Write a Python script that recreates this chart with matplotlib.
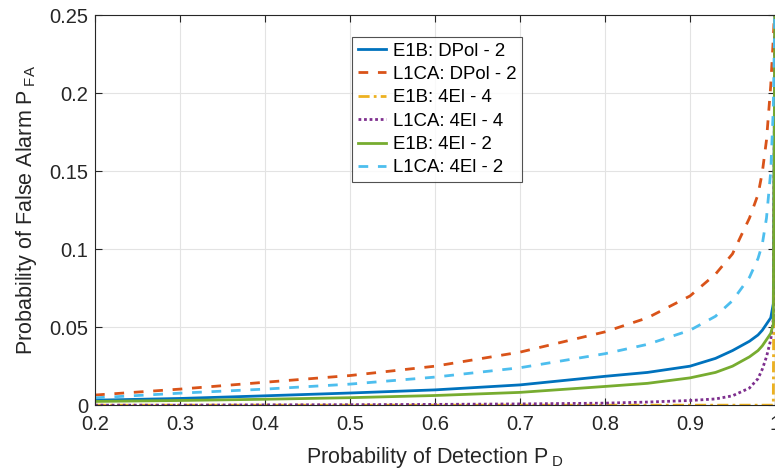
import matplotlib
matplotlib.use("Agg")
import matplotlib.pyplot as plt
import numpy as np

plt.rcParams['font.family'] = ['Liberation Sans', 'DejaVu Sans']
plt.rcParams['mathtext.fontset'] = 'custom'
plt.rcParams['mathtext.rm'] = 'Liberation Sans'

# detection probability grid (x) and false alarm probability per setup (y)
p_d = [0.2, 0.3, 0.4, 0.5, 0.6, 0.7, 0.8, 0.85, 0.9, 0.93, 0.95, 0.97, 0.98, 0.985, 0.99, 0.995, 0.998, 1.0]

e1b_dpol2 = [0.0032, 0.0043, 0.006, 0.0078, 0.0098, 0.013, 0.0185, 0.021, 0.025, 0.03, 0.035, 0.041, 0.045, 0.048, 0.052, 0.056, 0.065, 0.26]
l1ca_dpol2 = [0.0065, 0.0103, 0.0147, 0.019, 0.025, 0.034, 0.047, 0.056, 0.070, 0.084, 0.097, 0.12, 0.135, 0.149, 0.17, 0.205, 0.235, 0.26]
e1b_4el4 = [0, 0, 0, 0, 0, 0, 0, 0, 0, 0, 0, 0, 0, 0, 0, 0, 0, 0.26]
l1ca_4el4 = [0, 0, 0.0002, 0.0003, 0.0005, 0.0008, 0.0013, 0.002, 0.003, 0.004, 0.006, 0.011, 0.017, 0.023, 0.031, 0.042, 0.055, 0.26]
e1b_4el2 = [0.0024, 0.003, 0.0038, 0.0048, 0.0062, 0.0082, 0.012, 0.014, 0.0175, 0.021, 0.025, 0.031, 0.035, 0.038, 0.042, 0.046, 0.052, 0.26]
l1ca_4el2 = [0.0047, 0.0077, 0.0103, 0.0135, 0.018, 0.024, 0.033, 0.039, 0.048, 0.057, 0.067, 0.082, 0.094, 0.103, 0.12, 0.15, 0.19, 0.26]

x_ticks = [0.2, 0.3, 0.4, 0.5, 0.6, 0.7, 0.8, 0.9, 1.0]
x_labels = ['0.2', '0.3', '0.4', '0.5', '0.6', '0.7', '0.8', '0.9', '1']
y_ticks = [0, 0.05, 0.1, 0.15, 0.2, 0.25]
y_labels = ['0', '0.05', '0.1', '0.15', '0.2', '0.25']

fig = plt.figure(figsize=(7.75, 4.75), dpi=100)
ax = fig.add_axes([0.1226, 0.147, 0.8774, 0.821])

lw = 2.0
ax.plot(p_d, e1b_dpol2, color='#0072BD', lw=lw, ls='-', label='E1B: DPol - 2')
ax.plot(p_d, l1ca_dpol2, color='#D95319', lw=lw, ls=(0, (3.5, 3.5)), label='L1CA: DPol - 2')
ax.plot(p_d, e1b_4el4, color='#EDB120', lw=lw, ls=(0, (4, 1.5, 1, 1.5)), label='E1B: 4El - 4')
ax.plot(p_d, l1ca_4el4, color='#7E2F8E', lw=lw, ls=(0, (1, 1)), label='L1CA: 4El - 4')
ax.plot(p_d, e1b_4el2, color='#77AC30', lw=lw, ls='-', label='E1B: 4El - 2')
ax.plot(p_d, l1ca_4el2, color='#4DBEEE', lw=lw, ls=(0, (3.5, 3.5)), label='L1CA: 4El - 2')

ax.set_xlim(0.2, 1.0)
ax.set_ylim(0, 0.25)
ax.set_xticks(x_ticks)
ax.set_xticklabels(x_labels)
ax.set_yticks(y_ticks)
ax.set_yticklabels(y_labels)
ax.tick_params(direction='in', top=True, right=True, labelsize=14.5, colors='#262626', length=5)
ax.tick_params(axis='x', pad=7)
ax.tick_params(axis='y', pad=5)
ax.grid(True, color='#e3e3e3', lw=0.8)
ax.set_axisbelow(True)
for s in ax.spines.values():
    s.set_color('#262626')
    s.set_linewidth(0.8)

ax.set_xlabel('Probability of Detection P$\\,_{\\mathrm{D}}$', fontsize=15.5, color='#262626', labelpad=8)
ax.set_ylabel('Probability of False Alarm P$\\,_{\\mathrm{FA}}$', fontsize=15.5, color='#262626', labelpad=7)

leg = ax.legend(loc='upper left', bbox_to_anchor=(0.378, 0.944), fontsize=13.4, frameon=True,
                fancybox=False, edgecolor='#262626', handlelength=1.55, handletextpad=0.35,
                labelspacing=0.34, borderpad=0.3, borderaxespad=0)
leg.get_frame().set_linewidth(0.8)

fig.savefig('out.png', dpi=100)
